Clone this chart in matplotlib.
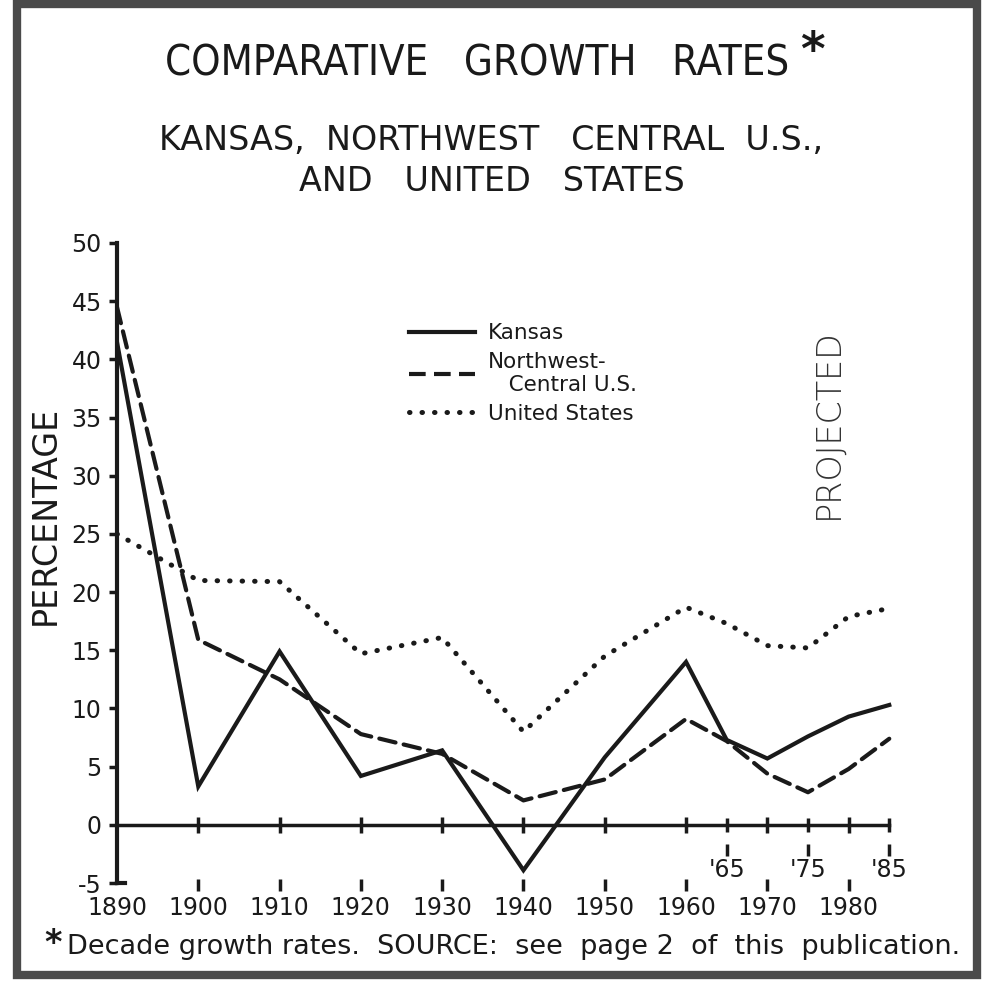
import matplotlib
matplotlib.use("Agg")
import matplotlib.pyplot as plt
from matplotlib.patches import Rectangle
from matplotlib.lines import Line2D

# data (decade growth rates, %)
years = [1890, 1900, 1910, 1920, 1930, 1940, 1950, 1960, 1965, 1970, 1975, 1980, 1985]
kansas = [41.5, 3.3, 14.9, 4.2, 6.4, -3.9, 5.8, 14.0, 7.3, 5.7, 7.6, 9.3, 10.3]
nw_central = [44.5, 15.9, 12.5, 7.8, 6.1, 2.1, 3.9, 9.1, 7.2, 4.4, 2.8, 4.8, 7.4]
united_states = [25.0, 21.0, 20.9, 14.7, 16.1, 8.0, 14.5, 18.7, 17.3, 15.4, 15.2, 17.9, 18.6]

decade_ticks = [1890, 1900, 1910, 1920, 1930, 1940, 1950, 1960, 1970, 1980]
decade_labels = ["1890", "1900", "1910", "1920", "1930", "1940", "1950", "1960", "1970", "1980"]
half_ticks = [1965, 1975, 1985]
half_labels = ["'65", "'75", "'85"]
y_ticks = [-5, 0, 5, 10, 15, 20, 25, 30, 35, 40, 45, 50]

ink = "#1a1a1a"
plt.rcParams["font.family"] = ["DejaVu Sans"]

fig = plt.figure(figsize=(9.83, 9.83), dpi=100)
ax = fig.add_axes([0.119, 0.1017, 0.827, 0.6511])

dotted = (0, (0.1, 2.4))
ax.plot(years, kansas, color=ink, lw=3.0, solid_joinstyle="miter")
ax.plot(years, nw_central, color=ink, lw=3.0, dashes=(4, 2), dash_capstyle="round")
ax.plot(years, united_states, color=ink, lw=3.6, linestyle=dotted, dash_capstyle="round")

ax.set_xlim(1890, 1990)
ax.set_ylim(-5, 50)

for s in ["top", "right"]:
    ax.spines[s].set_visible(False)
ax.spines["left"].set_linewidth(3)
ax.spines["left"].set_bounds(-5, 50)
ax.spines["left"].set_color(ink)
ax.spines["bottom"].set_position(("data", 0))
ax.spines["bottom"].set_bounds(1890, 1985)
ax.spines["bottom"].set_linewidth(2.5)
ax.spines["bottom"].set_color(ink)

ax.set_yticks(y_ticks)
ax.set_yticklabels([str(v) for v in y_ticks], fontsize=17, color=ink)
ax.tick_params(axis="y", direction="out", length=6, width=2.5, color=ink, pad=5)

ax.set_xticks(decade_ticks)
ax.set_xticklabels(decade_labels, fontsize=17, color=ink)
ax.set_xticks(half_ticks, minor=True)
ax.set_xticklabels(half_labels, minor=True, fontsize=17, color=ink)
ax.tick_params(axis="x", which="major", direction="inout", length=12, width=2.5,
               color=ink, pad=45)
ax.tick_params(axis="x", which="minor", direction="inout", length=10, width=2.5,
               color=ink, pad=19)
# hide the tick at the origin
ax.xaxis.get_major_ticks()[0].tick1line.set_visible(False)

# small marks above the year labels
ax.plot(decade_ticks[1:], [-5.2] * len(decade_ticks[1:]), linestyle="none",
        marker="|", markersize=8, markeredgewidth=2.5, color=ink, clip_on=False)
ax.plot(half_ticks, [-2.2] * len(half_ticks), linestyle="none",
        marker="|", markersize=8, markeredgewidth=2.5, color=ink, clip_on=False)
ax.plot([1890, 1891], [-5, -5], color=ink, lw=3, clip_on=False)

ax.set_ylabel("PERCENTAGE", fontsize=24, color=ink)
ax.yaxis.set_label_coords(-0.068, 0.575)

handles = [Line2D([], [], color=ink, lw=3.0),
           Line2D([], [], color=ink, lw=3.0, dashes=(4, 2)),
           Line2D([], [], color=ink, lw=3.6, linestyle=dotted, dash_capstyle="round")]
ax.legend(handles, ["Kansas", "Northwest-\n   Central U.S.", "United States"],
          loc="upper left", bbox_to_anchor=(0.335, 0.905), frameon=False,
          fontsize=15.5, handlelength=3.1, handletextpad=0.6, labelspacing=0.4,
          labelcolor=ink)

ax.text(1977.5, 34.5, "PROJECTED", rotation=90, fontsize=24, color="#333333",
        ha="center", va="center", fontweight="light")

fig.text(0.485, 0.935, "COMPARATIVE   GROWTH   RATES", fontsize=30, color=ink,
         ha="center", va="center", fontstretch="condensed")
fig.text(0.826, 0.947, "*", fontsize=34, color=ink, ha="center", va="center",
         fontweight="bold")
fig.text(0.5, 0.857, "KANSAS,  NORTHWEST   CENTRAL  U.S.,", fontsize=24, color=ink,
         ha="center", va="center")
fig.text(0.5, 0.815, "AND   UNITED   STATES", fontsize=24, color=ink,
         ha="center", va="center")
fig.text(0.045, 0.040, "*", fontsize=24, color=ink, ha="left", va="center",
         fontweight="bold")
fig.text(0.068, 0.037, "Decade growth rates.  SOURCE:  see  page 2  of  this  publication.",
         fontsize=19.5, color=ink, ha="left", va="center")

fig.add_artist(Rectangle((0.017, 0.008), 0.977, 0.988, transform=fig.transFigure,
                         fill=False, edgecolor="#4a4a4a", linewidth=6))

fig.savefig("out.png", dpi=100, facecolor="white")
